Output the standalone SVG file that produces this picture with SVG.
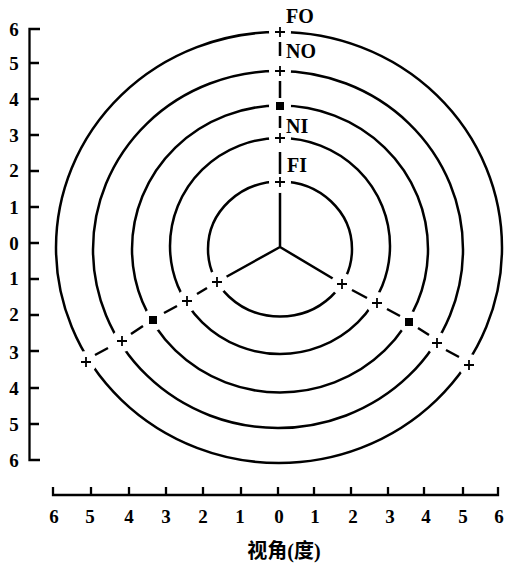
<svg xmlns="http://www.w3.org/2000/svg" width="505" height="564" viewBox="0 0 505 564">
<style>
.ln{fill:none;stroke:#000;stroke-width:2.5;stroke-linecap:butt}
.ax{fill:none;stroke:#000;stroke-width:2.3}
.gap{fill:#fff;stroke:none}
.pl{stroke:#000;stroke-width:1.8;fill:none}
.sq{fill:#000}
.t{font-family:"Liberation Serif","Times New Roman",serif;font-weight:bold;font-size:19px;fill:#000}
.lb{font-size:20px}
.tm{text-anchor:middle}
.cj{font-family:"Liberation Serif","Noto Sans CJK SC",serif;font-weight:bold;font-size:20px;fill:#000;text-anchor:middle}
</style>
<defs>
<g id="plus"><path class="pl" d="M-5,0H5M0,-5V5"/></g>
<rect id="sqr" class="sq" x="-4" y="-4" width="8" height="8"/>
</defs>
<rect width="505" height="564" fill="#fff"/>

<g id="y-axis">
<path class="ax" d="M40,29H29.5V460H40"/>
<path class="ax" d="M29.5,63H39M29.5,99H39M29.5,135H39M29.5,171H39M29.5,207H39M29.5,243H39M29.5,279H39M29.5,315H39M29.5,351H39M29.5,388H39M29.5,424H39"/>
<g class="t tm">
<text x="14" y="36">6</text><text x="14" y="70">5</text><text x="14" y="106">4</text><text x="14" y="142">3</text><text x="14" y="177">2</text><text x="14" y="214">1</text><text x="14" y="250">0</text><text x="14" y="285">1</text><text x="14" y="321">2</text><text x="14" y="359">3</text><text x="14" y="395">4</text><text x="14" y="431">5</text><text x="14" y="467">6</text>
</g>
</g>

<g id="x-axis">
<path class="ax" d="M53,487V495H498V487"/>
<path class="ax" d="M91,487V495M129,487V495M166,487V495M203,487V495M241,487V495M278,487V495M314,487V495M351,487V495M388,487V495M424,487V495M463,487V495"/>
<g class="t tm">
<text x="54" y="523">6</text><text x="90" y="523">5</text><text x="129" y="523">4</text><text x="166" y="523">3</text><text x="203" y="523">2</text><text x="240" y="523">1</text><text x="279" y="523">0</text><text x="315" y="523">1</text><text x="353" y="523">2</text><text x="390" y="523">3</text><text x="426" y="523">4</text><text x="463" y="523">5</text><text x="499" y="523">6</text>
</g>
<text class="cj" x="284" y="558">视角(度)</text>
</g>

<g id="rings">
<ellipse class="ln" cx="280" cy="249" rx="72" ry="67.5"/>
<ellipse class="ln" cx="280" cy="246" rx="110" ry="108"/>
<ellipse class="ln" cx="280" cy="249" rx="148" ry="143.5"/>
<ellipse class="ln" cx="278" cy="249.5" rx="185" ry="178.5"/>
<ellipse class="ln" cx="279" cy="247.5" rx="223" ry="215.5"/>
</g>

<g id="connectors">
<path class="ln" d="M280,247V182M280,247L217,282M280,247L342,284"/>
<g id="gaps">
<circle class="gap" cx="280" cy="182" r="11"/><circle class="gap" cx="280" cy="138" r="11"/><circle class="gap" cx="280" cy="106" r="11"/><circle class="gap" cx="280" cy="71" r="11"/><circle class="gap" cx="280" cy="32" r="11"/>
<circle class="gap" cx="217" cy="282" r="11"/><circle class="gap" cx="187" cy="301" r="11"/><circle class="gap" cx="153" cy="320" r="11"/><circle class="gap" cx="122" cy="341" r="11"/><circle class="gap" cx="86" cy="362" r="11"/>
<circle class="gap" cx="342" cy="284" r="11"/><circle class="gap" cx="377" cy="303" r="11"/><circle class="gap" cx="409" cy="322" r="11"/><circle class="gap" cx="437" cy="343" r="11"/><circle class="gap" cx="469" cy="365" r="11"/>
</g>
<path class="ln" d="M280,152V174M280,116V128M280,81V98M280,42V56"/>
<path class="ln" d="M207,288L197,294M177,306L164,313M143,326L131,334M108,348L95,355"/>
<path class="ln" d="M352,290L367,298M387,309L400,316M418,328L429,335M446,350L459,357"/>
</g>

<g id="markers">
<use href="#plus" x="280" y="182"/><use href="#plus" x="280" y="138"/><use href="#sqr" x="280" y="106"/><use href="#plus" x="280" y="71"/><use href="#plus" x="280" y="32"/>
<use href="#plus" x="217" y="282"/><use href="#plus" x="187" y="301"/><use href="#sqr" x="153" y="320"/><use href="#plus" x="122" y="341"/><use href="#plus" x="86" y="362"/>
<use href="#plus" x="342" y="284"/><use href="#plus" x="377" y="303"/><use href="#sqr" x="409" y="322"/><use href="#plus" x="437" y="343"/><use href="#plus" x="469" y="365"/>
</g>

<g id="labels" class="t lb">
<text x="286" y="23">FO</text>
<text x="286" y="58">NO</text>
<text x="286" y="133">NI</text>
<text x="287" y="172">FI</text>
</g>
</svg>
